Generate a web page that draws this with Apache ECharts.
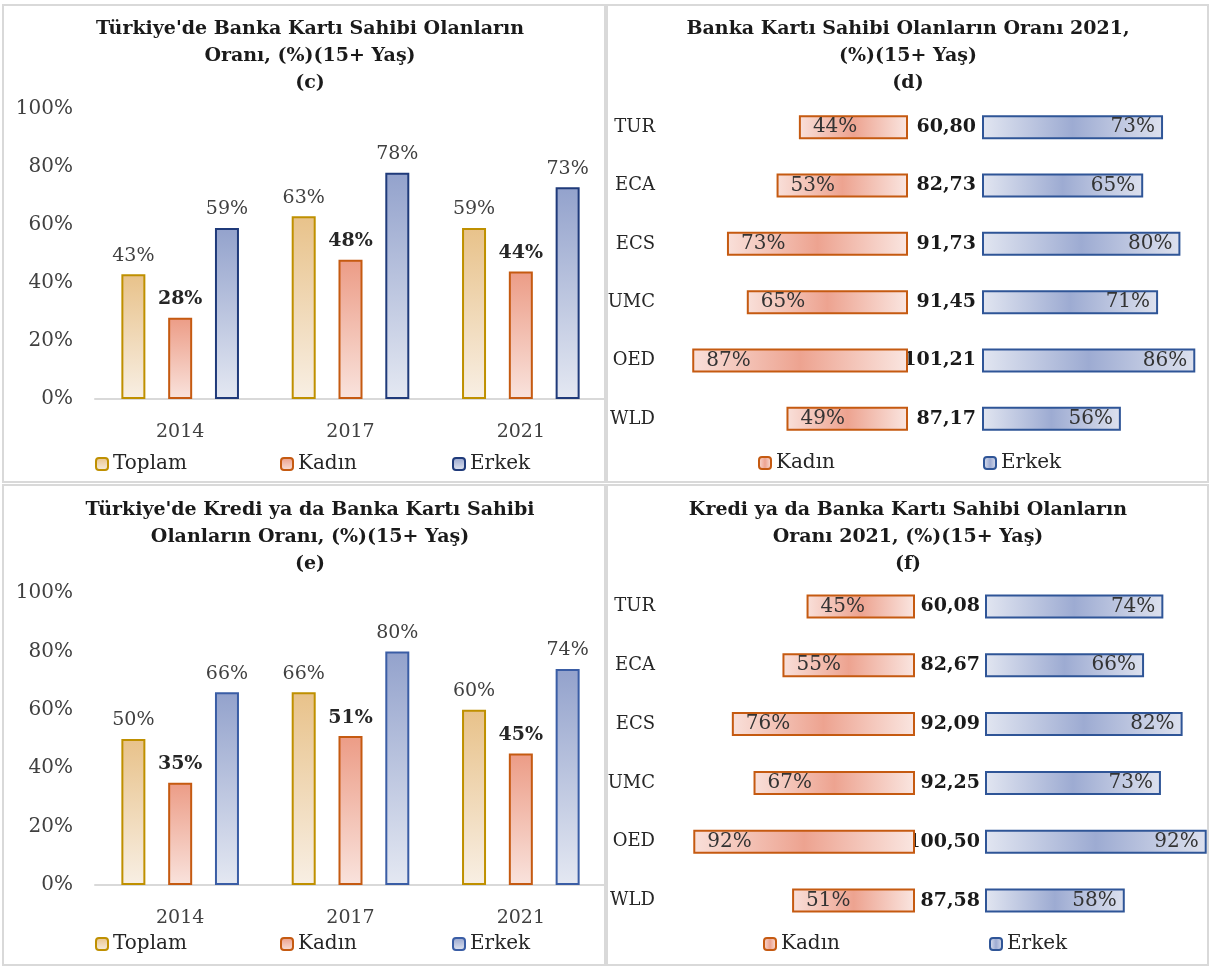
<!DOCTYPE html>
<html>
<head>
<meta charset="utf-8">
<script src="https://cdn.jsdelivr.net/npm/echarts/dist/echarts.min.js"></script>
<style>
  body { margin: 0; background: #fff; }
  .panel { position: absolute; outline: 2px solid #d9d9d9; outline-offset: -2px; }
</style>
</head>
<body>
<div id="c" class="panel" style="left:2px;top:4px;width:604px;height:479px"></div>
<div id="d" class="panel" style="left:606px;top:4px;width:603px;height:479px"></div>
<div id="e" class="panel" style="left:2px;top:484px;width:604px;height:482px"></div>
<div id="f" class="panel" style="left:606px;top:484px;width:603px;height:482px"></div>
<script>
// veriler
const years = ['2014', '2017', '2021'];
const yTicks = [0, 20, 40, 60, 80, 100];

const bankToplam = [43, 63, 59];
const bankKadin = [28, 48, 44];
const bankErkek = [59, 78, 73];

const creditToplam = [50, 66, 60];
const creditKadin = [35, 51, 45];
const creditErkek = [66, 80, 74];

const countries = ['TUR', 'ECA', 'ECS', 'UMC', 'OED', 'WLD'];

const bank21Kadin = [44, 53, 73, 65, 87, 49];
const bank21Erkek = [73, 65, 80, 71, 86, 56];
const bank21Ratio = ['60,80', '82,73', '91,73', '91,45', '101,21', '87,17'];

const credit21Kadin = [45, 55, 76, 67, 92, 51];
const credit21Erkek = [74, 66, 82, 73, 92, 58];
const credit21Ratio = ['60,08', '82,67', '92,09', '92,25', '100,50', '87,58'];

const FONT = 'DejaVu Serif';

function vGrad(top, bottom) {
  return new echarts.graphic.LinearGradient(0, 0, 0, 1, [
    { offset: 0, color: top }, { offset: 1, color: bottom }
  ]);
}
function hGrad(stops) {
  return new echarts.graphic.LinearGradient(0, 0, 1, 0,
    stops.map(s => ({ offset: s[0], color: s[1] })));
}

function barLabel(bold) {
  return {
    show: true, position: 'top', distance: 9, formatter: '{c}%',
    fontFamily: FONT, fontSize: 19,
    fontWeight: bold ? 'bold' : 'normal',
    color: bold ? '#262626' : '#404040'
  };
}

const titleStyle = { fontFamily: FONT, fontSize: 19, fontWeight: 'bold', color: '#1a1a1a', lineHeight: 27 };
const legendText = { fontFamily: FONT, fontSize: 20, color: '#262626' };

// (c) ve (e): yillara gore sutun grafik
function columnChart(id, cfg) {
  const chart = echarts.init(document.getElementById(id));
  const names = ['Toplam', 'Kadın', 'Erkek'];
  const legendLeft = [93, 278, 450];
  chart.setOption({
    animation: false,
    title: { text: cfg.title, left: 308, top: cfg.titleTop, textAlign: 'center', padding: 0, textStyle: titleStyle },
    legend: names.map((n, i) => ({
      data: [n], left: legendLeft[i], top: 450, padding: 0,
      itemWidth: 12, itemHeight: 12, selectedMode: false, textStyle: legendText
    })),
    grid: { left: 93, right: 0, top: cfg.gridTop, height: cfg.gridHeight, outerBoundsMode: 'none' },
    xAxis: {
      type: 'category', data: years,
      axisLine: { lineStyle: { color: '#d9d9d9', width: 2 } },
      axisTick: { show: false },
      axisLabel: { margin: 24, fontFamily: FONT, fontSize: 19, color: '#404040' }
    },
    yAxis: {
      type: 'value', min: yTicks[0], max: yTicks[yTicks.length - 1], interval: 20,
      splitLine: { show: false }, axisLine: { show: false }, axisTick: { show: false },
      axisLabel: { margin: 22, formatter: '{value}%', fontFamily: FONT, fontSize: 20, color: '#404040' }
    },
    series: [
      {
        name: 'Toplam', type: 'bar', data: cfg.toplam, barWidth: 24, barGap: '95%',
        itemStyle: { color: vGrad('#E8C28A', '#F8EFE4'), borderColor: '#BF9000', borderWidth: 2 },
        label: barLabel(false)
      },
      {
        name: 'Kadın', type: 'bar', data: cfg.kadin, barWidth: 24, barGap: '95%',
        itemStyle: { color: vGrad('#EC9C86', '#F9E3DD'), borderColor: '#C55A11', borderWidth: 2 },
        label: barLabel(true)
      },
      {
        name: 'Erkek', type: 'bar', data: cfg.erkek, barWidth: 24, barGap: '95%',
        itemStyle: { color: vGrad('#93A2CC', '#E4E8F2'), borderColor: cfg.erkekBorder, borderWidth: 2 },
        label: barLabel(false)
      }
    ]
  });
  return chart;
}

// (d) ve (f): ulkelere gore kelebek grafik
function butterflyChart(id, cfg) {
  const chart = echarts.init(document.getElementById(id));
  const inLabel = {
    show: true, formatter: '{c}%', fontFamily: FONT, fontSize: 20, color: '#333'
  };
  const catAxis = {
    type: 'category', data: countries, inverse: true, position: 'left',
    axisLine: { show: false, onZero: false }, axisTick: { show: false }
  };
  chart.setOption({
    animation: false,
    title: { text: cfg.title, left: 302, top: cfg.titleTop, textAlign: 'center', padding: 0, textStyle: titleStyle },
    legend: [
      { data: ['Kadın'], left: cfg.legendLeft[0] },
      { data: ['Erkek'], left: cfg.legendLeft[1] }
    ].map(l => Object.assign(l, {
      top: cfg.legendTop, padding: 0, itemWidth: 12, itemHeight: 12, selectedMode: false, textStyle: legendText
    })),
    grid: [
      { left: cfg.leftX, width: cfg.scale * 100, top: cfg.top, height: cfg.height, outerBoundsMode: 'none' },
      { left: cfg.rightX, width: cfg.scale * 100, top: cfg.top, height: cfg.height, outerBoundsMode: 'none' }
    ],
    xAxis: [
      { gridIndex: 0, type: 'value', min: 0, max: 100, inverse: true, show: false },
      { gridIndex: 1, type: 'value', min: 0, max: 100, show: false }
    ],
    yAxis: [
      Object.assign({ gridIndex: 0 }, catAxis, {
        axisLabel: { margin: cfg.countryMargin, fontFamily: FONT, fontSize: 18, color: '#262626' }
      }),
      Object.assign({ gridIndex: 1 }, catAxis, {
        axisLabel: {
          margin: cfg.ratioMargin, formatter: (v, i) => cfg.ratio[i],
          fontFamily: FONT, fontSize: 19, fontWeight: 'bold', color: '#1a1a1a'
        }
      })
    ],
    series: [
      {
        name: 'Kadın', type: 'bar', xAxisIndex: 0, yAxisIndex: 0, data: cfg.kadin, barWidth: 24,
        itemStyle: {
          color: hGrad([[0, '#F9E0DA'], [0.5, '#EDA390'], [1, '#FAE6E1']]),
          borderColor: '#C55A11', borderWidth: 2
        },
        label: Object.assign({ position: 'insideLeft', distance: 14 }, inLabel)
      },
      {
        name: 'Erkek', type: 'bar', xAxisIndex: 1, yAxisIndex: 1, data: cfg.erkek, barWidth: 24,
        itemStyle: {
          color: hGrad([[0, '#E2E6F1'], [0.5, '#9DABD2'], [1, '#DDE1EE']]),
          borderColor: '#2F5597', borderWidth: 2
        },
        label: Object.assign({ position: 'insideRight', distance: 8 }, inLabel)
      }
    ]
  });
  return chart;
}

const charts = [
  columnChart('c', {
    title: "Türkiye'de Banka Kartı Sahibi Olanların\nOranı, (%)(15+ Yaş)\n(c)",
    titleTop: 12, gridTop: 105, gridHeight: 290,
    toplam: bankToplam, kadin: bankKadin, erkek: bankErkek, erkekBorder: '#1F3A7A'
  }),
  butterflyChart('d', {
    title: 'Banka Kartı Sahibi Olanların Oranı 2021,\n(%)(15+ Yaş)\n(d)',
    titleTop: 12, top: 94, height: 350, leftX: 54, rightX: 376, scale: 2.48,
    countryMargin: 5, ratioMargin: 6, legendLeft: [152, 377], legendTop: 449,
    kadin: bank21Kadin, erkek: bank21Erkek, ratio: bank21Ratio
  }),
  columnChart('e', {
    title: "Türkiye'de Kredi ya da Banka Kartı Sahibi\nOlanların Oranı, (%)(15+ Yaş)\n(e)",
    titleTop: 13, gridTop: 109, gridHeight: 292,
    toplam: creditToplam, kadin: creditKadin, erkek: creditErkek, erkekBorder: '#3A5DA5'
  }),
  butterflyChart('f', {
    title: 'Kredi ya da Banka Kartı Sahibi Olanların\nOranı 2021, (%)(15+ Yaş)\n(f)',
    titleTop: 13, top: 93, height: 353, leftX: 68, rightX: 379, scale: 2.41,
    countryMargin: 19, ratioMargin: 5, legendLeft: [157, 383], legendTop: 450,
    kadin: credit21Kadin, erkek: credit21Erkek, ratio: credit21Ratio
  })
];

window.addEventListener('resize', () => charts.forEach(c => c.resize()));
</script>
</body>
</html>
